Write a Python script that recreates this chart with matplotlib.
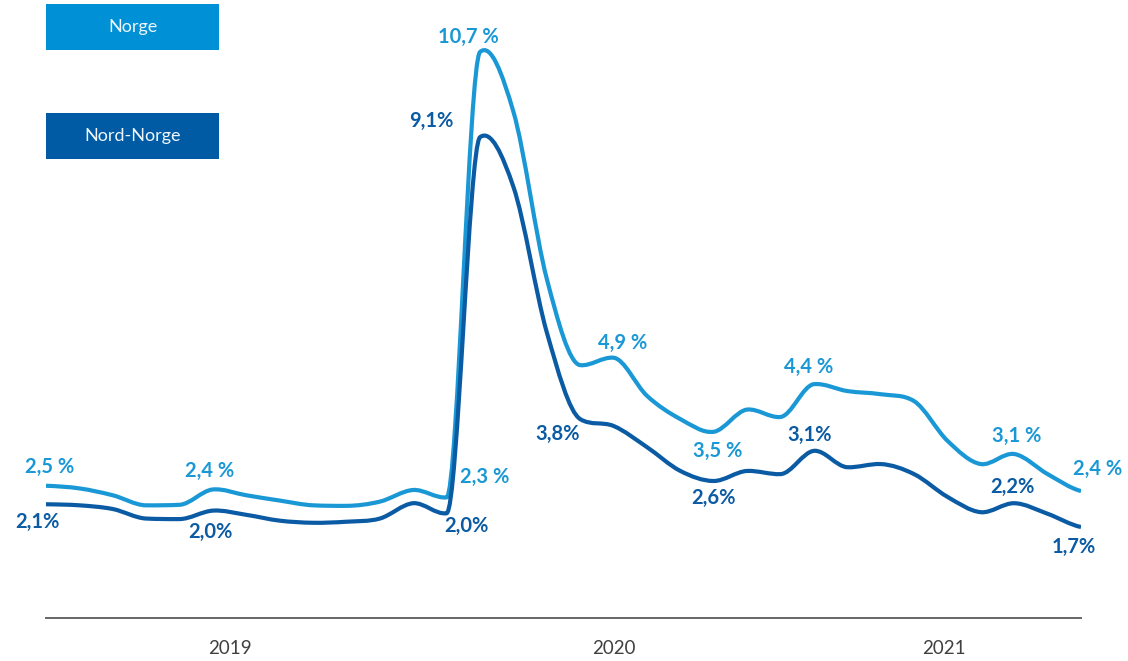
import numpy as np
import matplotlib
matplotlib.use("Agg")
import matplotlib.pyplot as plt
from matplotlib.path import Path
from matplotlib.patches import PathPatch, Rectangle

# Monthly registered unemployment (%), 32 months
norge = [2.50, 2.45, 2.32, 2.13, 2.14, 2.43, 2.32, 2.22, 2.13, 2.12, 2.20, 2.42,
         2.28, 10.70, 9.57, 6.41, 4.78, 4.92, 4.20, 3.76, 3.52, 3.94, 3.80, 4.42,
         4.29, 4.23, 4.10, 3.35, 2.91, 3.10, 2.72, 2.40]
nord_norge = [2.15, 2.13, 2.06, 1.88, 1.87, 2.03, 1.95, 1.84, 1.80, 1.82, 1.88, 2.17,
              1.98, 9.09, 8.15, 5.40, 3.76, 3.63, 3.23, 2.78, 2.59, 2.78, 2.72, 3.16,
              2.85, 2.91, 2.72, 2.29, 2.00, 2.17, 1.97, 1.72]

# Labelled points: index, text
norge_lbl_idx = [0, 5, 12, 13, 17, 20, 23, 29, 31]
norge_lbl_txt = ["2,5 %", "2,4 %", "2,3 %", "10,7 %", "4,9 %", "3,5 %", "4,4 %", "3,1 %", "2,4 %"]
nord_lbl_idx = [0, 5, 12, 13, 16, 20, 23, 29, 31]
nord_lbl_txt = ["2,1%", "2,0%", "2,0%", "9,1%", "3,8%", "2,6%", "3,1%", "2,2%", "1,7%"]

years = ["2019", "2020", "2021"]
year_pos = [5.5, 17.0, 26.9]

# label offsets in pixels (dx, dy)
norge_off = [(4, 19), (-3, 18), (38, 20), (-12, 15), (9, 15), (4, -19), (-5, 17), (2, 18), (17, 22)]
nord_off = [(-9, -18), (-2, -21), (20, -13), (-49, 16), (-23, -15), (0, -17), (-4, 16), (-2, 16), (-7, -20)]

c_norge = "#1a98d5"
c_nord = "#0a5ba4"
box_norge = "#0090d6"
box_nord = "#005ba4"


def smooth_path(y):
    # smoothed line (cubic Bezier through the points, limited overshoot)
    y = np.asarray(y, float)
    x = np.arange(len(y), dtype=float)
    n = len(y)
    d = np.diff(y)
    m = np.zeros(n)
    for i in range(1, n - 1):
        m[i] = (y[i + 1] - y[i - 1]) / 2
        if d[i - 1] * d[i] > 0:
            lim = 3 * min(abs(d[i - 1]), abs(d[i]))
        else:
            lim = 0.5 * min(abs(d[i - 1]), abs(d[i]))
        if abs(m[i]) > lim:
            m[i] = np.sign(m[i]) * lim
    m[0] = d[0] * 0.5
    m[-1] = d[-1] * 0.5
    verts = [(x[0], y[0])]
    codes = [Path.MOVETO]
    h = 1 / 3
    for i in range(n - 1):
        verts += [(x[i] + h, y[i] + m[i] * h),
                  (x[i + 1] - h, y[i + 1] - m[i + 1] * h),
                  (x[i + 1], y[i + 1])]
        codes += [Path.CURVE4] * 3
    return Path(verts, codes)


plt.rcParams["font.family"] = ["Lato", "DejaVu Sans"]

fig = plt.figure(figsize=(11.28, 6.61), dpi=100)
ax = fig.add_axes([46 / 1128, 43 / 661, 1035 / 1128, 618 / 661])
ax.set_xlim(0, len(norge) - 1)
ax.set_ylim(0, 618 / 52.9)

ax.add_patch(PathPatch(smooth_path(norge), fill=False, edgecolor=c_norge, lw=3.0,
                       capstyle="butt", joinstyle="round", zorder=3))
ax.add_patch(PathPatch(smooth_path(nord_norge), fill=False, edgecolor=c_nord, lw=3.0,
                       capstyle="butt", joinstyle="round", zorder=3))

for i, t, off in zip(norge_lbl_idx, norge_lbl_txt, norge_off):
    ax.annotate(t, (i, norge[i]), xytext=off, textcoords="offset pixels",
                ha="center", va="center", color=c_norge, fontsize=14.5,
                fontweight="bold", zorder=5)
for i, t, off in zip(nord_lbl_idx, nord_lbl_txt, nord_off):
    ax.annotate(t, (i, nord_norge[i]), xytext=off, textcoords="offset pixels",
                ha="center", va="center", color=c_nord, fontsize=14.5,
                fontweight="bold", zorder=5)

for s in ["top", "right", "left"]:
    ax.spines[s].set_visible(False)
ax.spines["bottom"].set_color("#666666")
ax.spines["bottom"].set_linewidth(1.4)
ax.set_yticks([])
ax.set_xticks(year_pos)
ax.set_xticklabels(years, fontsize=13.5, color="#404040")
ax.tick_params(axis="x", length=0, pad=16)

# legend boxes
for top, label, col in [(4, "Norge", box_norge), (113, "Nord-Norge", box_nord)]:
    fig.patches.append(Rectangle((46 / 1128, (661 - top - 46) / 661), 173 / 1128, 46 / 661,
                                 transform=fig.transFigure, facecolor=col, edgecolor="none"))
    fig.text(132.5 / 1128, (661 - top - 23) / 661, label, ha="center", va="center",
             color="#eef6fc", fontsize=13)

fig.savefig("out.png", dpi=100)
